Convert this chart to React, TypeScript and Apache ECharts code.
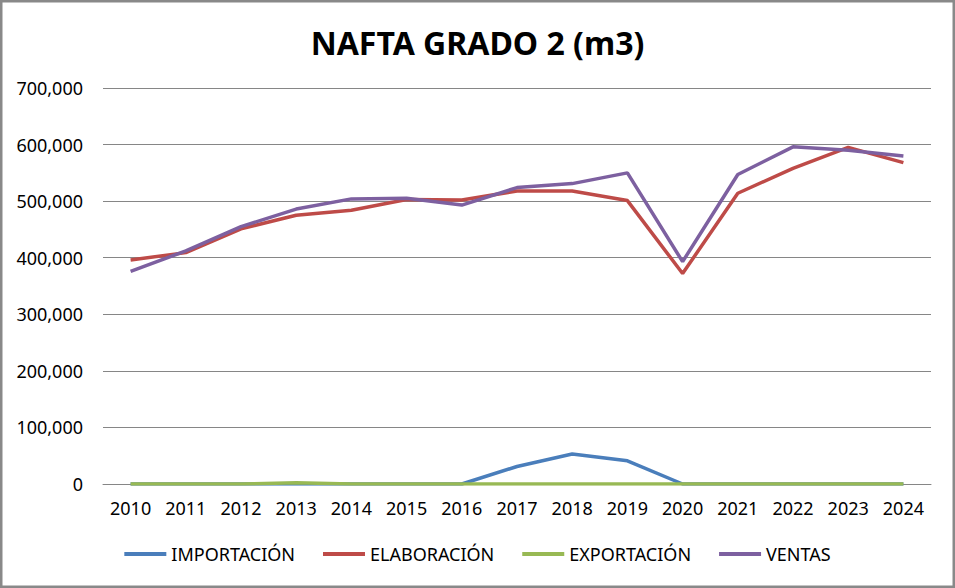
import React, { useEffect, useRef } from "react";
import * as echarts from "echarts";

const years = ["2010","2011","2012","2013","2014","2015","2016","2017","2018","2019","2020","2021","2022","2023","2024"];
const importacion = [0,0,0,0,0,0,0,31000,53000,41000,0,0,0,0,0];
const elaboracion = [396000,409000,451000,475000,484000,503000,502000,518000,518000,501000,372000,514000,558000,595000,568000];
const exportacion = [0,0,0,2000,0,0,0,0,0,0,0,0,0,0,0];
const ventas = [376000,412000,455000,486000,504000,505000,493000,524000,531000,550000,393000,547000,596000,590000,580000];

const FONT = "'Noto Sans', 'Open Sans', sans-serif";

export default function App() {
  const ref = useRef<HTMLDivElement>(null);
  useEffect(() => {
    document.body.style.margin = "0";
    const chart = echarts.init(ref.current!, null, { renderer: "svg" });
    const fmt = (v: number) => String(v).replace(/\B(?=(\d{3})+(?!\d))/g, ",");
    const mk = (name: string, data: number[], color: string) => ({
      name,
      type: "line",
      data,
      symbol: "none",
      lineStyle: { color, width: 3.5 },
      itemStyle: { color },
    });
    chart.setOption({
      animation: false,
      backgroundColor: "#ffffff",
      textStyle: { fontFamily: FONT },
      title: {
        text: "NAFTA GRADO 2 (m3)",
        left: "center",
        top: 21,
        textStyle: { fontFamily: FONT, fontSize: 32, fontWeight: "bold", color: "#000" },
      },
      graphic: [
        {
          type: "rect",
          shape: { x: 1.25, y: 1.25, width: 952.5, height: 585.5 },
          style: { fill: "none", stroke: "#898989", lineWidth: 2.5 },
          silent: true,
        },
      ],
      legend: {
        bottom: 20,
        left: "center",
        icon: "rect",
        itemWidth: 42,
        itemHeight: 4,
        itemGap: 28,
        textStyle: { fontFamily: FONT, fontSize: 18, color: "#000" },
        data: ["IMPORTACIÓN", "ELABORACIÓN", "EXPORTACIÓN", "VENTAS"],
      },
      grid: { left: 103, right: 24, top: 88, bottom: 104, containLabel: false },
      xAxis: {
        type: "category",
        data: years,
        boundaryGap: true,
        axisLine: { lineStyle: { color: "#868686", width: 1 } },
        axisTick: { show: false },
        axisLabel: { color: "#000", fontSize: 18, fontFamily: FONT, margin: 15 },
      },
      yAxis: {
        type: "value",
        min: 0,
        max: 700000,
        interval: 100000,
        axisLine: { show: false },
        axisTick: { show: false },
        splitLine: { lineStyle: { color: "#868686", width: 1 } },
        axisLabel: { color: "#000", fontSize: 18, fontFamily: FONT, margin: 20, formatter: fmt },
      },
      series: [
        mk("IMPORTACIÓN", importacion, "#4A7EBB"),
        mk("ELABORACIÓN", elaboracion, "#BE4B48"),
        mk("EXPORTACIÓN", exportacion, "#98B954"),
        mk("VENTAS", ventas, "#7D60A0"),
      ],
    });
    return () => chart.dispose();
  }, []);
  return <div ref={ref} style={{ width: 955, height: 588 }} />;
}
